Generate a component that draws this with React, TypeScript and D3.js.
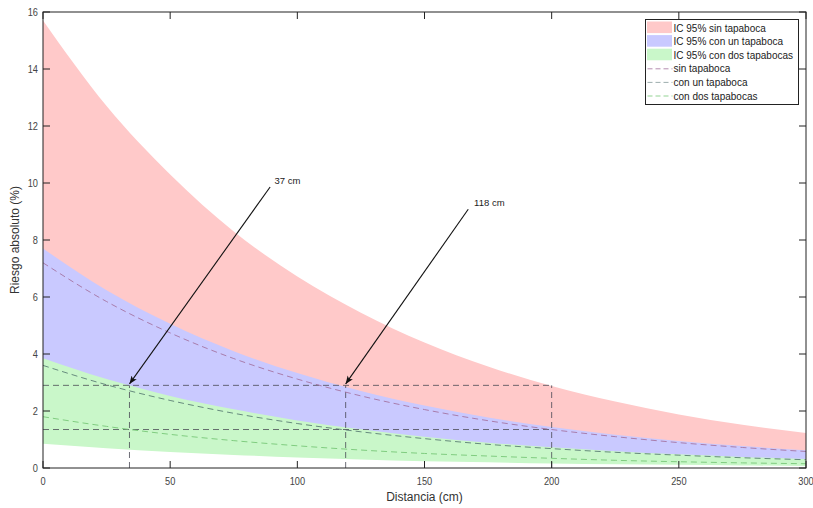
import React from 'react'
import * as d3 from 'd3'

// distance samples (cm) and values (%)
const distances = [0, 25, 50, 75, 100, 125, 150, 175, 200, 225, 250, 275, 300]

const sinHigh = [15.7, 12.7, 10.3, 8.3, 6.72, 5.45, 4.4, 3.56, 2.88, 2.33, 1.88, 1.52, 1.23]
const sinLow = [3.3, 2.68, 2.17, 1.76, 1.43, 1.16, 0.94, 0.76, 0.62, 0.5, 0.41, 0.33, 0.27]
const sinMid = [7.2, 5.84, 4.74, 3.84, 3.12, 2.53, 2.05, 1.66, 1.35, 1.1, 0.89, 0.72, 0.58]

const unHigh = [7.7, 6.24, 5.06, 4.1, 3.33, 2.7, 2.19, 1.77, 1.44, 1.17, 0.95, 0.77, 0.62]
const unLow = [1.65, 1.34, 1.09, 0.88, 0.71, 0.58, 0.47, 0.38, 0.31, 0.25, 0.2, 0.17, 0.13]
const unMid = [3.6, 2.92, 2.37, 1.92, 1.56, 1.27, 1.03, 0.83, 0.68, 0.55, 0.45, 0.36, 0.29]

const dosHigh = [3.85, 3.12, 2.53, 2.06, 1.67, 1.36, 1.1, 0.89, 0.73, 0.59, 0.48, 0.39, 0.32]
const dosLow = [0.85, 0.69, 0.56, 0.46, 0.37, 0.3, 0.24, 0.2, 0.16, 0.13, 0.11, 0.09, 0.07]
const dosMid = [1.8, 1.46, 1.18, 0.96, 0.78, 0.63, 0.51, 0.42, 0.34, 0.27, 0.22, 0.18, 0.15]

// guide lines: horizontal levels (drawn 0..200 cm) and vertical cut distances
const guideLevels = [2.9, 1.35]
const guideEnd = 200
const guideCuts = [34, 119, 200]

// arrows with their labels
const arrowLabels = ['37 cm', '118 cm']
const arrowTipX = [34, 119]
const arrowTipY = [2.95, 2.95]
const arrowTailX = [89.3, 167.2]
const arrowTailY = [9.86, 9.08]
const labelX = [91, 169.5]
const labelY = [10.08, 9.3]

const xTicks = [0, 50, 100, 150, 200, 250, 300]
const yTicks = [0, 2, 4, 6, 8, 10, 12, 14, 16]

const legendBands = ['IC 95% sin tapaboca', 'IC 95% con un tapaboca', 'IC 95% con dos tapabocas']
const legendLines = ['sin tapaboca', 'con un tapaboca', 'con dos tapabocas']

const bandColors = ['#ffc9c9', '#c9c9ff', '#c9f7c9']
const lineColors = ['#a2709e', '#3c5c5c', '#78c878']
const lineOpacity = [0.85, 0.7, 0.9]

const FONT = '"Liberation Sans", Arial, Helvetica, sans-serif'

export default function App() {
  const W = 813
  const H = 508
  const left = 43, right = 806, top = 12, bottom = 468

  const x = d3.scaleLinear().domain([0, 300]).range([left, right])
  const y = d3.scaleLinear().domain([0, 16]).range([bottom, top])

  const band = (lo: number[], hi: number[]) =>
    d3.area<number>()
      .x(d => x(d))
      .y0((d, i) => y(lo[i]))
      .y1((d, i) => y(hi[i]))
      .curve(d3.curveMonotoneX)(distances) as string

  const line = (vals: number[]) =>
    d3.line<number>()
      .x(d => x(d))
      .y((d, i) => y(vals[i]))
      .curve(d3.curveMonotoneX)(distances) as string

  const bands = [band(sinLow, sinHigh), band(unLow, unHigh), band(dosLow, dosHigh)]
  const mids = [line(sinMid), line(unMid), line(dosMid)]

  const tick = 7
  const legX = 645.5, legY = 19.5, legW = 153, legH = 85
  const rowH = 13.6
  const squeeze = 0.84

  return (
    <svg width={W} height={H} style={{ position: 'absolute', left: 0, top: 0, background: '#fff' }}
      fontFamily={FONT}>
      <defs>
        <marker id="head" viewBox="0 0 10 10" refX="10" refY="5" markerWidth="8" markerHeight="8"
          markerUnits="userSpaceOnUse" orient="auto">
          <path d="M0,1 L10,5 L0,9 L2.5,5 Z" fill="#111" />
        </marker>
      </defs>

      {/* confidence bands */}
      {bands.map((d, i) => <path key={'b' + i} d={d} fill={bandColors[i]} stroke="none" />)}

      {/* guide lines */}
      <g stroke="#4a4a55" strokeOpacity={0.8} strokeWidth={1} strokeDasharray="6,4" fill="none">
        {guideLevels.map((v, i) => (
          <line key={'h' + i} x1={x(0)} x2={x(guideEnd)} y1={y(v)} y2={y(v)} />
        ))}
        {guideCuts.map((d, i) => (
          <line key={'v' + i} x1={x(d)} x2={x(d)} y1={y(0)} y2={y(guideLevels[0])} />
        ))}
      </g>

      {/* central estimates */}
      {mids.map((d, i) => (
        <path key={'m' + i} d={d} fill="none" stroke={lineColors[i]} strokeOpacity={lineOpacity[i]}
          strokeWidth={1} strokeDasharray="6,4" />
      ))}

      {/* arrows */}
      {arrowLabels.map((t, i) => (
        <g key={'a' + i}>
          <line x1={x(arrowTailX[i])} y1={y(arrowTailY[i])} x2={x(arrowTipX[i])} y2={y(arrowTipY[i])}
            stroke="#111" strokeWidth={1.1} markerEnd="url(#head)" />
          <text x={x(labelX[i])} y={y(labelY[i])} dy="0.35em" fontSize={9.5} fill="#222">{t}</text>
        </g>
      ))}

      {/* frame and ticks */}
      <rect x={left} y={top} width={right - left} height={bottom - top} fill="none" stroke="#222" strokeWidth={1} />
      <g stroke="#222" strokeWidth={1}>
        {xTicks.map(t => (
          <g key={'xt' + t}>
            <line x1={x(t)} x2={x(t)} y1={bottom} y2={bottom - tick} />
            <line x1={x(t)} x2={x(t)} y1={top} y2={top + tick} />
          </g>
        ))}
        {yTicks.map(t => (
          <g key={'yt' + t}>
            <line x1={left} x2={left + tick} y1={y(t)} y2={y(t)} />
            <line x1={right} x2={right - tick} y1={y(t)} y2={y(t)} />
          </g>
        ))}
      </g>
      <g fontSize={11} fill="#444">
        {xTicks.map(t => (
          <text key={'xl' + t} transform={`translate(${x(t)},${bottom + 13}) scale(${squeeze},1)`}
            dy="0.35em" textAnchor="middle">{t}</text>
        ))}
        {yTicks.map(t => (
          <text key={'yl' + t} transform={`translate(${left - 5},${y(t)}) scale(${squeeze},1)`}
            dy="0.35em" textAnchor="end">{t}</text>
        ))}
      </g>
      <text x={(left + right) / 2} y={497} dy="0.35em" textAnchor="middle" fontSize={12} fill="#333">
        Distancia (cm)
      </text>
      <text transform={`translate(15,${(top + bottom) / 2}) rotate(-90)`} dy="0.35em" textAnchor="middle"
        fontSize={12} fill="#333">
        Riesgo absoluto (%)
      </text>

      {/* legend */}
      <g>
        <rect x={legX} y={legY} width={legW} height={legH} fill="#fff" stroke="#222" strokeWidth={1} />
        {legendBands.map((t, i) => (
          <g key={'lb' + i}>
            <rect x={legX + 1.5} y={legY + 2 + i * rowH} width={25} height={rowH - 2} fill={bandColors[i]} />
            <text x={legX + 28} y={legY + 8.5 + i * rowH} dy="0.35em" fontSize={10} fill="#222">{t}</text>
          </g>
        ))}
        {legendLines.map((t, i) => (
          <g key={'ll' + i}>
            <line x1={legX + 2} x2={legX + 27} y1={legY + 8.5 + (i + 3) * rowH} y2={legY + 8.5 + (i + 3) * rowH}
              stroke={lineColors[i]} strokeOpacity={i === 1 ? 0.5 : 0.8} strokeWidth={1} strokeDasharray="5,3" />
            <text x={legX + 28} y={legY + 8.5 + (i + 3) * rowH} dy="0.35em" fontSize={10} fill="#222">{t}</text>
          </g>
        ))}
      </g>
    </svg>
  )
}
